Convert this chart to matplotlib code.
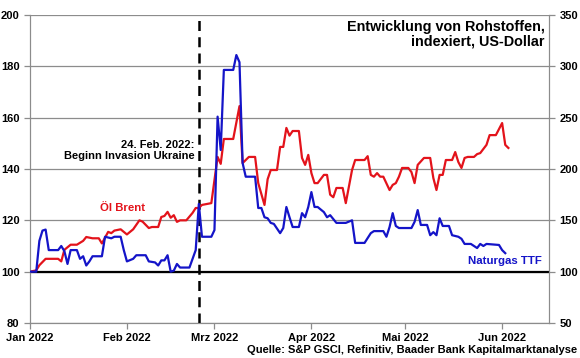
#!/usr/bin/env python
import numpy as np
import pandas as pd
import matplotlib
matplotlib.use("Agg")
import matplotlib.pyplot as plt
import matplotlib.dates as mdates
from matplotlib.ticker import MultipleLocator

plt.rcParams['font.family'] = ['Liberation Sans', 'DejaVu Sans']
plt.rcParams['font.weight'] = 'bold'

# Oel Brent, indexiert (linke Achse)
brent_dates = ["2022-01-01", "2022-01-03", "2022-01-04", "2022-01-06", "2022-01-10", "2022-01-11",
               "2022-01-12", "2022-01-14", "2022-01-16", "2022-01-18", "2022-01-19", "2022-01-21",
               "2022-01-23", "2022-01-24", "2022-01-26", "2022-01-27", "2022-01-28", "2022-01-30",
               "2022-02-01", "2022-02-03", "2022-02-05", "2022-02-06", "2022-02-08", "2022-02-09",
               "2022-02-11", "2022-02-12", "2022-02-13", "2022-02-14", "2022-02-15", "2022-02-16",
               "2022-02-17", "2022-02-18", "2022-02-20", "2022-02-22", "2022-02-23", "2022-02-24",
               "2022-02-25", "2022-02-28", "2022-03-01", "2022-03-02", "2022-03-03", "2022-03-04",
               "2022-03-07", "2022-03-09", "2022-03-10", "2022-03-12", "2022-03-14", "2022-03-15",
               "2022-03-17", "2022-03-18", "2022-03-19", "2022-03-21", "2022-03-22", "2022-03-23",
               "2022-03-24", "2022-03-25", "2022-03-26", "2022-03-28", "2022-03-29", "2022-03-30",
               "2022-03-31", "2022-04-01", "2022-04-02", "2022-04-03", "2022-04-05", "2022-04-06",
               "2022-04-07", "2022-04-08", "2022-04-09", "2022-04-11", "2022-04-12", "2022-04-14",
               "2022-04-15", "2022-04-18", "2022-04-19", "2022-04-20", "2022-04-21", "2022-04-22",
               "2022-04-23", "2022-04-24", "2022-04-26", "2022-04-27", "2022-04-28", "2022-04-29",
               "2022-04-30", "2022-05-02", "2022-05-03", "2022-05-04", "2022-05-05", "2022-05-07",
               "2022-05-09", "2022-05-10", "2022-05-11", "2022-05-12", "2022-05-13", "2022-05-14",
               "2022-05-16", "2022-05-17", "2022-05-18", "2022-05-19", "2022-05-20", "2022-05-21",
               "2022-05-23", "2022-05-24", "2022-05-25", "2022-05-27", "2022-05-28", "2022-05-30",
               "2022-06-01", "2022-06-02", "2022-06-03"]
brent = [100, 100.5, 102.5, 105, 105, 104,
         108.5, 110.5, 110.5, 112, 113.5, 113,
         113, 111, 115.5, 115, 116, 116.5,
         114.5, 116.5, 120, 119.5, 117, 117.4,
         117.4, 121.3, 121.7, 123.3, 121, 122,
         119.4, 120, 120, 122.9, 124.8, 124.8,
         126, 126.7, 135.7, 144.7, 142, 151.7,
         151.7, 164.5, 142.3, 144.7, 144.7, 134.5,
         126, 136, 139.6, 139.6, 148.6, 148.6,
         156, 153, 154.8, 154.8, 144.3, 141.6,
         145.5, 138.4, 134.5, 134.5, 137.7, 137.7,
         130, 129, 132.6, 132.6, 126.7, 139.6,
         143.5, 143.5, 145, 137.7, 137, 138.4,
         137, 137, 131.8, 133.8, 134.5, 137,
         140.4, 140.4, 138.8, 134.5, 141.6, 144.3,
         144.3, 136.5, 131.8, 137.7, 137.7, 143.5,
         143.5, 146.6, 142.7, 140.4, 144.3, 144.7,
         144.7, 145.8, 146.2, 149.4, 153.2, 153.2,
         157.9, 149.4, 148.2]

# Naturgas TTF, indexiert (rechte Achse)
gas_dates = ["2022-01-01", "2022-01-03", "2022-01-04", "2022-01-05", "2022-01-06", "2022-01-07",
             "2022-01-10", "2022-01-11", "2022-01-12", "2022-01-13", "2022-01-14", "2022-01-16",
             "2022-01-17", "2022-01-18", "2022-01-19", "2022-01-20", "2022-01-21", "2022-01-24",
             "2022-01-25", "2022-01-27", "2022-01-28", "2022-01-30", "2022-01-31", "2022-02-01",
             "2022-02-03", "2022-02-04", "2022-02-07", "2022-02-08", "2022-02-10", "2022-02-11",
             "2022-02-12", "2022-02-13", "2022-02-14", "2022-02-15", "2022-02-16", "2022-02-17",
             "2022-02-18", "2022-02-21", "2022-02-22", "2022-02-23", "2022-02-24", "2022-02-25",
             "2022-02-28", "2022-03-01", "2022-03-02", "2022-03-03", "2022-03-04", "2022-03-07",
             "2022-03-08", "2022-03-09", "2022-03-10", "2022-03-11", "2022-03-14", "2022-03-15",
             "2022-03-16", "2022-03-17", "2022-03-18", "2022-03-19", "2022-03-20", "2022-03-22",
             "2022-03-23", "2022-03-24", "2022-03-25", "2022-03-26", "2022-03-28", "2022-03-29",
             "2022-03-30", "2022-03-31", "2022-04-01", "2022-04-02", "2022-04-03", "2022-04-05",
             "2022-04-06", "2022-04-07", "2022-04-09", "2022-04-12", "2022-04-14", "2022-04-15",
             "2022-04-18", "2022-04-20", "2022-04-21", "2022-04-24", "2022-04-25", "2022-04-26",
             "2022-04-27", "2022-04-28", "2022-04-29", "2022-05-03", "2022-05-04", "2022-05-05",
             "2022-05-06", "2022-05-08", "2022-05-09", "2022-05-10", "2022-05-11", "2022-05-12",
             "2022-05-13", "2022-05-15", "2022-05-16", "2022-05-18", "2022-05-19", "2022-05-20",
             "2022-05-22", "2022-05-24", "2022-05-25", "2022-05-26", "2022-05-27", "2022-05-31",
             "2022-06-01", "2022-06-02"]
gas = [100, 100, 130, 140, 141, 121,
       121, 125, 120, 107.5, 121, 121,
       112.5, 115, 106, 110, 115, 115,
       134, 132.5, 134, 134, 121, 110,
       112.5, 116, 116, 110, 109, 106,
       111, 111, 116, 100, 101, 107.5,
       104, 104, 112.5, 121, 166, 134,
       134, 140.5, 251, 218.5, 296.5, 296.5,
       311, 304, 205.8, 192.5, 192.5, 162,
       162, 153, 152, 147.5, 146.5, 137.5,
       142.5, 163, 153, 143.5, 143.5, 157,
       153, 163, 177.5, 163, 163, 158,
       153, 155, 147.5, 147.5, 150, 128,
       128, 137.5, 139.5, 139.5, 134, 143.5,
       157, 144.5, 142.5, 142.5, 148.5, 160,
       145.5, 145.5, 135.5, 138.5, 135.5, 152,
       144.5, 144.5, 135.5, 134, 132, 127,
       127, 123, 127, 125, 127, 126,
       121, 118]

month_ticks = ["2022-01-01", "2022-02-01", "2022-03-01", "2022-04-01", "2022-05-01", "2022-06-01"]
month_labels = ["Jan 2022", "Feb 2022", "Mrz 2022", "Apr 2022", "Mai 2022", "Jun 2022"]
invasion_date = "2022-02-24"

red = '#e3131b'
blue = '#1414c8'
grid_col = '#8c8c8c'

fig = plt.figure(figsize=(5.8, 3.58), dpi=100)
ax = fig.add_axes([0.0517, 0.0978, 0.8949, 0.8603])
ax2 = ax.twinx()

bd = pd.to_datetime(brent_dates)
gd = pd.to_datetime(gas_dates)

ax.set_ylim(80, 200)
ax.yaxis.set_major_locator(MultipleLocator(20))
ax2.set_ylim(50, 350)
ax2.yaxis.set_major_locator(MultipleLocator(50))
ax.set_xlim(pd.Timestamp("2022-01-01"), pd.Timestamp("2022-06-16"))

ax.grid(axis='y', color=grid_col, lw=0.9)
ax.set_axisbelow(True)
ax.axhline(100, color='black', lw=1.6, zorder=2)
ax.axvline(pd.Timestamp(invasion_date), color='black', lw=1.8, dashes=(4, 2.5), zorder=3)

ax.plot(bd, brent, color=red, lw=1.6, zorder=4)
ax2.plot(gd, gas, color=blue, lw=1.6, zorder=4)

ax.set_xticks(pd.to_datetime(month_ticks))
ax.set_xticklabels(month_labels)

for a in (ax, ax2):
    for s in a.spines.values():
        s.set_color(grid_col)
    a.spines['top'].set_visible(False)
    a.tick_params(colors=grid_col, labelcolor='black', labelsize=8, length=4, width=0.9)
ax.tick_params(axis='x', pad=3)

ax.text(pd.Timestamp("2022-02-22 12:00"), 147.2, "24. Feb. 2022:\nBeginn Invasion Ukraine",
        ha='right', va='center', multialignment='right', fontsize=8, fontweight='bold',
        linespacing=1.15, zorder=5)
ax.text(pd.Timestamp("2022-01-30 18:00"), 124.8, "Öl Brent", ha='center', va='center',
        color=red, fontsize=8.2, fontweight='bold')
ax.text(pd.Timestamp("2022-06-01 22:00"), 104.3, "Naturgas TTF", ha='center', va='center',
        color=blue, fontsize=8.2, fontweight='bold')
ax.text(0.992, 0.985, "Entwicklung von Rohstoffen,\nindexiert, US-Dollar", transform=ax.transAxes,
        ha='right', va='top', multialignment='right', fontsize=10.4, fontweight='bold',
        linespacing=1.1)
fig.text(0.995, 0.022, "Quelle: S&P GSCI, Refinitiv, Baader Bank Kapitalmarktanalyse",
         ha='right', va='center', fontsize=8, fontweight='bold')

fig.savefig("out.png", dpi=100)
